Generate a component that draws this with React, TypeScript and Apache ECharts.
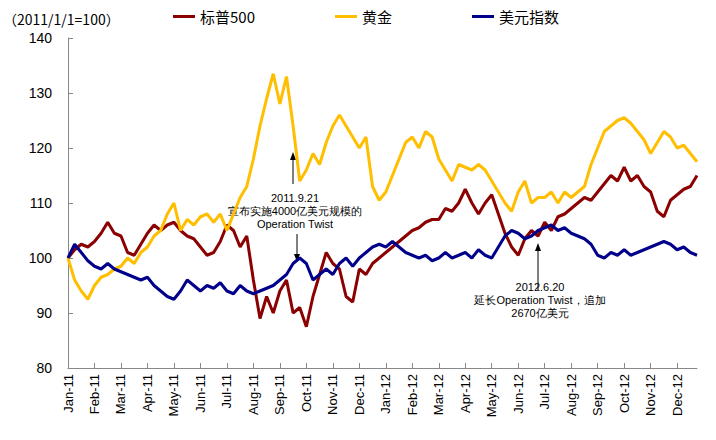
import * as echarts from "echarts";
import { useEffect, useRef } from "react";

const monthNames = ["Jan", "Feb", "Mar", "Apr", "May", "Jun", "Jul", "Aug", "Sep", "Oct", "Nov", "Dec"];
const years = ["11", "12"];
const weeksPerMonth = 4;

// weekly readings, 4 per month, Jan-11 .. Dec-12
const sp500 = [
  100, 101.5, 102.5, 102, 103, 104.5, 106.5, 104.5, 104, 101, 100.5, 102.5,
  104.5, 106, 105, 106, 106.5, 105, 104, 103.5, 102, 100.5, 101, 103,
  106, 105, 102, 104, 96, 89, 93, 90, 94, 96, 90, 91,
  87.5, 93, 97, 101, 99, 98, 93, 92, 98, 97, 99, 100,
  101, 102, 103, 104, 105, 105.5, 106.5, 107, 107, 109, 108.5, 110,
  112.5, 110, 108, 110, 111.5, 108, 104.5, 102, 100.5, 103.5, 105, 104,
  106.5, 105, 107.5, 108, 109, 110, 111, 110.5, 112, 113.5, 115, 114,
  116.5, 114, 115, 113, 112, 108.5, 107.5, 110.5, 111.5, 112.5, 113, 115,
];
const gold = [
  100, 96, 94, 92.5, 95, 96.5, 97, 98, 98.5, 100, 99, 101,
  102, 104, 105, 108, 110, 105, 107, 106, 107.5, 108, 106.5, 108,
  105, 108, 111, 113, 118, 124, 129, 133.5, 128, 133, 124, 114,
  116, 119, 117, 121, 124, 126, 124, 122, 120, 122, 113, 110.5,
  112, 115, 118, 121, 122, 120, 123, 122, 118, 116, 114, 117,
  116.5, 116, 117, 116, 114, 112, 110, 108.5, 112, 114, 110, 111,
  111, 112, 110, 112, 111, 112, 113, 117, 120, 123, 124, 125,
  125.5, 124.5, 123, 121.5, 119, 121, 123, 122, 120, 120.5, 119, 117.5,
];
const dollarIndex = [
  100, 102.5, 101, 99.5, 98.5, 98, 99, 98, 97.5, 97, 96.5, 96,
  96.5, 95, 94, 93, 92.5, 94, 96, 95, 94, 95, 94.5, 95.5,
  94, 93.5, 95, 94, 93.5, 94, 94.5, 95, 96, 97, 99, 100,
  99, 96, 97, 98, 97, 99, 100, 98.5, 100, 101, 102, 102.5,
  102, 103, 102, 101, 100.5, 100, 100.5, 99.5, 100, 101, 100, 100.5,
  101, 100, 101.5, 100.5, 100, 102, 104, 105, 104.5, 103.5, 104, 105,
  105.5, 106, 105, 105.5, 104.5, 104, 103.5, 102.5, 100.5, 100, 101, 100.5,
  101.5, 100.5, 101, 101.5, 102, 102.5, 103, 102.5, 101.5, 102, 101, 100.5,
];

const categories: string[] = [];
years.forEach((y) =>
  monthNames.forEach((m) => {
    for (let w = 0; w < weeksPerMonth; w++) categories.push(w === 0 ? `${m}-${y}` : `${m}-${y}-${w}`);
  })
);

const FONT = "Liberation Sans, Arial, sans-serif";

const arrowHead = (x: number, y: number, up: boolean) => ({
  type: "polygon",
  shape: { points: up ? [[x - 3, y + 8], [x + 3, y + 8], [x, y]] : [[x - 3, y - 8], [x + 3, y - 8], [x, y]] },
  style: { fill: "#000" },
});

const Chart = () => {
  const chartRef = useRef(null);

  useEffect(() => {
    const chart = echarts.init(chartRef.current, null, { renderer: "svg" });
    const showMonth = (i: number) => i % weeksPerMonth === 0;
    const txt = { fontFamily: FONT, fontSize: 11, fill: "#000", align: "center" };

    chart.setOption({
      animation: false,
      textStyle: { fontFamily: FONT },
      grid: { left: 68, right: 19, top: 38, bottom: 72 },
      legend: {
        top: 4,
        left: 168,
        itemGap: 80,
        itemWidth: 22,
        itemHeight: 3,
        icon: "rect",
        textStyle: { fontSize: 15, color: "#000", fontFamily: "Noto Sans CJK SC, " + FONT },
        data: ["标普500", "黄金", "美元指数"],
      },
      xAxis: {
        type: "category",
        data: categories,
        boundaryGap: false,
        axisLine: { lineStyle: { color: "#888" } },
        axisTick: { inside: true, interval: showMonth, lineStyle: { color: "#888" } },
        axisLabel: {
          interval: showMonth,
          rotate: 90,
          color: "#000",
          fontSize: 13,
          margin: 6,
        },
      },
      yAxis: {
        type: "value",
        min: 80,
        max: 140,
        interval: 10,
        splitLine: { show: false },
        axisLine: { show: true, lineStyle: { color: "#888" } },
        axisTick: { show: true, inside: true, lineStyle: { color: "#888" } },
        axisLabel: { color: "#000", fontSize: 14, margin: 16 },
      },
      series: [
        { name: "标普500", type: "line", data: sp500, showSymbol: false, color: "#8b0000", lineStyle: { width: 3 } },
        { name: "黄金", type: "line", data: gold, showSymbol: false, color: "#ffbe00", lineStyle: { width: 3 } },
        { name: "美元指数", type: "line", data: dollarIndex, showSymbol: false, color: "#00008b", lineStyle: { width: 3 } },
      ],
      graphic: [
        { type: "text", left: 3, top: 12, style: { text: "（2011/1/1=100）", fontSize: 14, fill: "#000", fontFamily: "Noto Sans CJK SC, " + FONT } },
        { type: "line", shape: { x1: 293, y1: 184, x2: 293, y2: 156 }, style: { stroke: "#000", lineWidth: 1 } },
        arrowHead(293, 152, true),
        { type: "text", x: 295, y: 191, style: { ...txt, text: "2011.9.21\n宣布实施4000亿美元规模的\nOperation Twist", lineHeight: 13 } },
        { type: "line", shape: { x1: 297, y1: 234, x2: 297, y2: 256 }, style: { stroke: "#000", lineWidth: 1 } },
        arrowHead(297, 262, false),
        { type: "line", shape: { x1: 538, y1: 290, x2: 538, y2: 247 }, style: { stroke: "#000", lineWidth: 1 } },
        arrowHead(538, 243, true),
        { type: "text", x: 540, y: 280, style: { ...txt, text: "2012.6.20\n延长Operation Twist，追加\n2670亿美元", lineHeight: 13 } },
      ],
    });

    return () => chart.dispose();
  }, []);

  return <div ref={chartRef} style={{ width: "716px", height: "440px" }} />;
};

export default function App() {
  return (
    <div style={{ margin: -8 }}>
      <Chart />
    </div>
  );
}
